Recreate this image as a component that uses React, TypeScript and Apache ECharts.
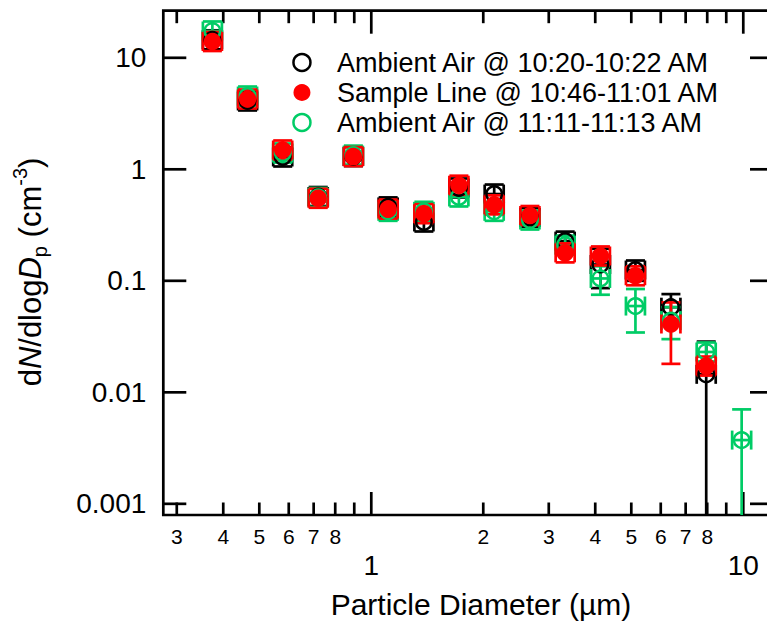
import React, { useEffect, useRef } from "react";
import * as echarts from "echarts";

// ---------- data ----------
const diameters = [0.374, 0.465, 0.578, 0.72, 0.895, 1.11, 1.385, 1.72, 2.14, 2.67, 3.32, 4.13, 5.13, 6.39, 7.95, 9.9];

const ambientEarly = [14.5, 4.1, 1.29, 0.57, 1.3, 0.46, 0.337, 0.68, 0.6, 0.37, 0.227, 0.14, 0.125, 0.058, 0.0145, null];
const ambientEarlyErr = [0.5, 0.15, 0.05, 0.02, 0.04, 0.02, 0.02, 0.03, 0.03, 0.02, 0.015, 0.054, 0.025, 0.018, 0.014, null];

const sampleLine = [14.0, 4.27, 1.49, 0.55, 1.3, 0.44, 0.4, 0.72, 0.48, 0.385, 0.178, 0.167, 0.111, 0.041, 0.0172, null];
const sampleLineErr = [0.5, 0.15, 0.05, 0.02, 0.04, 0.02, 0.02, 0.03, 0.03, 0.02, 0.015, 0.02, 0.012, 0.023, 0.003, null];

const ambientLate = [17.4, 4.54, 1.4, 0.56, 1.34, 0.42, 0.42, 0.565, 0.42, 0.351, 0.209, 0.105, 0.0594, 0.044, 0.023, 0.00373];
const ambientLateErr = [0.5, 0.15, 0.05, 0.02, 0.04, 0.02, 0.02, 0.03, 0.03, 0.02, 0.015, 0.03, 0.025, 0.014, 0.004, 0.0033];

const seriesNames = ["Ambient Air @ 10:20-10:22 AM", "Sample Line @ 10:46-11:01 AM", "Ambient Air @ 11:11-11:13 AM"];

const xMinorTicks = [0.3, 0.4, 0.5, 0.6, 0.7, 0.8, 0.9, 2, 3, 4, 5, 6, 7, 8, 9];
const xMajorTicks = [1, 10];
const xMajorLabels = ["1", "10"];
const xMinorLabelValues = [0.3, 0.4, 0.5, 0.6, 0.7, 0.8, 2, 3, 4, 5, 6, 7, 8];
const xMinorLabels = ["3", "4", "5", "6", "7", "8", "2", "3", "4", "5", "6", "7", "8"];
const yMajorTicks = [0.001, 0.01, 0.1, 1, 10];
const yTickLabels = ["0.001", "0.01", "0.1", "1", "10"];

const X_MIN = 0.276;
const X_MAX = 12.02;
const Y_MIN = 0.000794;
const Y_MAX = 26.45;

// ---------- styling ----------
const FONT = "'Liberation Sans', Arial, sans-serif";
const BLACK = "#000000";
const RED = "#ff0000";
const GREEN = "#00cc66";
const LW = 2.7;
const CAP = 9.5;

function labelFor(values: number[], labels: string[]) {
  return (v: number) => {
    for (let i = 0; i < values.length; i++) {
      if (Math.abs(Math.log10(v) - Math.log10(values[i])) < 0.005) return labels[i];
    }
    return "";
  };
}

function errSeries(name: string, values: (number | null)[], errs: (number | null)[], color: string) {
  const data: number[][] = [];
  diameters.forEach((d, i) => {
    const v = values[i];
    const e = errs[i];
    if (v != null && e != null) data.push([d, v, e]);
  });
  return {
    type: "custom",
    name: name + " err",
    coordinateSystem: "cartesian2d",
    silent: true,
    data,
    encode: { x: 0, y: 1 },
    renderItem: (params: any, api: any) => {
      const x = api.value(0);
      const y = api.value(1);
      const e = api.value(2);
      const c = api.coord([x, y]);
      const cs = params.coordSys;
      const bottomEdge = cs.y + cs.height;
      const up = api.coord([x, y + e])[1];
      const lo = y - e > 0 ? Math.min(api.coord([x, y - e])[1], bottomEdge) : bottomEdge;
      const top = Math.min(up, c[1] - CAP);
      const bot = Math.max(lo, c[1] + CAP);
      const style = { stroke: color, lineWidth: LW, fill: "none" };
      const children: any[] = [
        { type: "line", shape: { x1: c[0], y1: top, x2: c[0], y2: bot }, style },
        { type: "line", shape: { x1: c[0] - CAP, y1: c[1], x2: c[0] + CAP, y2: c[1] }, style },
        { type: "line", shape: { x1: c[0] - CAP, y1: top, x2: c[0] + CAP, y2: top }, style },
        { type: "line", shape: { x1: c[0] - CAP, y1: c[1] - CAP, x2: c[0] - CAP, y2: c[1] + CAP }, style },
        { type: "line", shape: { x1: c[0] + CAP, y1: c[1] - CAP, x2: c[0] + CAP, y2: c[1] + CAP }, style },
      ];
      if (bot < bottomEdge - 1) {
        children.push({ type: "line", shape: { x1: c[0] - CAP, y1: bot, x2: c[0] + CAP, y2: bot }, style });
      }
      return { type: "group", children };
    },
  };
}

function markerSeries(name: string, values: (number | null)[], color: string, filled: boolean) {
  const data: number[][] = [];
  diameters.forEach((d, i) => {
    const v = values[i];
    if (v != null) data.push([d, v]);
  });
  return {
    type: "scatter",
    name,
    data,
    symbol: "circle",
    symbolSize: filled ? 17.5 : 15.5,
    silent: true,
    itemStyle: filled
      ? { color, borderWidth: 0, opacity: 1 }
      : { color: "rgba(0,0,0,0)", borderColor: color, borderWidth: 2.5, opacity: 1 },
  };
}

function tickSeries(kind: "xMinor" | "xMajor" | "yMajor", values: number[]) {
  const data = values.map((v) => (kind === "yMajor" ? [X_MIN * 2, v] : [v, Y_MIN * 10]));
  return {
    type: "custom",
    name: kind,
    coordinateSystem: "cartesian2d",
    silent: true,
    clip: false,
    data,
    encode: { x: 0, y: 1 },
    renderItem: (params: any, api: any) => {
      const cs = params.coordSys;
      const style = { stroke: BLACK, lineWidth: LW };
      const bottom = cs.y + cs.height;
      const top = cs.y;
      const left = cs.x;
      const right = cs.x + cs.width;
      if (kind === "yMajor") {
        const py = api.coord([api.value(0), api.value(1)])[1];
        return {
          type: "group",
          children: [
            { type: "line", shape: { x1: left, y1: py, x2: left + 23, y2: py }, style },
            { type: "line", shape: { x1: right, y1: py, x2: right - 23, y2: py }, style },
          ],
        };
      }
      const px = api.coord([api.value(0), api.value(1)])[0];
      const len = kind === "xMajor" ? 23 : 12.5;
      return {
        type: "group",
        children: [
          { type: "line", shape: { x1: px, y1: bottom, x2: px, y2: bottom - len }, style },
          { type: "line", shape: { x1: px, y1: top, x2: px, y2: top + len }, style },
        ],
      };
    },
  };
}

function minorLabelSeries() {
  return {
    type: "custom",
    name: "xMinorLabels",
    coordinateSystem: "cartesian2d",
    silent: true,
    clip: false,
    data: xMinorLabelValues.map((v) => [v, Y_MIN * 10]),
    encode: { x: 0, y: 1 },
    renderItem: (params: any, api: any) => {
      const cs = params.coordSys;
      const px = api.coord([api.value(0), api.value(1)])[0];
      return {
        type: "text",
        x: px,
        y: cs.y + cs.height + 21,
        style: {
          text: xMinorLabels[params.dataIndex],
          fontSize: 21,
          fontFamily: FONT,
          fill: BLACK,
          align: "center",
          verticalAlign: "middle",
          textAlign: "center",
          textVerticalAlign: "middle",
        },
      };
    },
  };
}

export default function App() {
  const ref = useRef<HTMLDivElement>(null);
  useEffect(() => {
    if (!ref.current) return;
    const chart = echarts.init(ref.current, undefined, { renderer: "svg" });
    const option: any = {
      animation: false,
      backgroundColor: "#ffffff",
      textStyle: { fontFamily: FONT },
      grid: {
        left: 163.3,
        top: 10.7,
        width: 609.7,
        height: 504.3,
        show: true,
        borderColor: BLACK,
        borderWidth: LW,
        backgroundColor: "transparent",
        containLabel: false,
        outerBoundsMode: "none",
      },
      xAxis: {
        type: "log",
        logBase: 10,
        min: X_MIN,
        max: X_MAX,
        axisLine: { show: false },
        axisTick: { show: false },
        minorTick: { show: false },
        splitLine: { show: false },
        axisLabel: {
          formatter: labelFor(xMajorTicks, xMajorLabels),
          fontSize: 28,
          fontFamily: FONT,
          color: BLACK,
          margin: 36,
          showMinLabel: false,
          showMaxLabel: false,
        },
      },
      yAxis: {
        type: "log",
        logBase: 10,
        min: Y_MIN,
        max: Y_MAX,
        axisLine: { show: false },
        axisTick: { show: false },
        minorTick: { show: false },
        splitLine: { show: false },
        axisLabel: {
          formatter: labelFor(yMajorTicks, yTickLabels),
          fontSize: 28,
          fontFamily: FONT,
          color: BLACK,
          margin: 17,
          showMinLabel: false,
          showMaxLabel: false,
        },
      },
      legend: {
        orient: "vertical",
        left: 292.2,
        top: 49,
        padding: 0,
        itemWidth: 17,
        itemHeight: 17,
        itemGap: 3,
        selectedMode: false,
        textStyle: { fontSize: 27, fontFamily: FONT, color: BLACK, lineHeight: 27, padding: [0, 0, 0, 21.5] },
        data: [
          { name: seriesNames[0], icon: "circle", itemStyle: { color: "rgba(0,0,0,0)", borderColor: BLACK, borderWidth: 2.5 } },
          { name: seriesNames[1], icon: "circle", itemStyle: { color: RED, borderWidth: 0 } },
          { name: seriesNames[2], icon: "circle", itemStyle: { color: "rgba(0,0,0,0)", borderColor: GREEN, borderWidth: 2.5 } },
        ],
      },
      graphic: [
        {
          type: "text",
          x: 30,
          y: 272,
          rotation: Math.PI / 2,
          style: {
            text: "{a|d}{i|N}{a|/dlog}{i|D}{s|p}{a| (cm}{u|-3}{a|)}",
            rich: {
              a: { fontSize: 31, fontFamily: FONT, fill: BLACK, color: BLACK, lineHeight: 40, verticalAlign: "middle" },
              i: { fontSize: 31, fontFamily: FONT, fontStyle: "italic", fill: BLACK, color: BLACK, lineHeight: 40, verticalAlign: "middle" },
              s: { fontSize: 20, fontFamily: FONT, fill: BLACK, color: BLACK, lineHeight: 20, verticalAlign: "bottom" },
              u: { fontSize: 20, fontFamily: FONT, fill: BLACK, color: BLACK, lineHeight: 20, verticalAlign: "top" },
            },
            align: "center",
            verticalAlign: "middle",
            textAlign: "center",
            textVerticalAlign: "middle",
            fill: BLACK,
          },
        },
        {
          type: "text",
          x: 481,
          y: 604,
          style: {
            text: "Particle Diameter (µm)",
            fontSize: 30,
            fontFamily: FONT,
            fill: BLACK,
            align: "center",
            verticalAlign: "middle",
            textAlign: "center",
            textVerticalAlign: "middle",
          },
        },
      ],
      series: [
        tickSeries("xMinor", xMinorTicks),
        tickSeries("xMajor", xMajorTicks),
        tickSeries("yMajor", yMajorTicks),
        minorLabelSeries(),
        errSeries(seriesNames[0], ambientEarly, ambientEarlyErr, BLACK),
        markerSeries(seriesNames[0], ambientEarly, BLACK, false),
        errSeries(seriesNames[2], ambientLate, ambientLateErr, GREEN),
        markerSeries(seriesNames[2], ambientLate, GREEN, false),
        errSeries(seriesNames[1], sampleLine, sampleLineErr, RED),
        markerSeries(seriesNames[1], sampleLine, RED, true),
      ],
    };
    chart.setOption(option);
    return () => chart.dispose();
  }, []);
  return <div ref={ref} style={{ position: "fixed", left: 0, top: 0, width: 767, height: 623 }} />;
}
